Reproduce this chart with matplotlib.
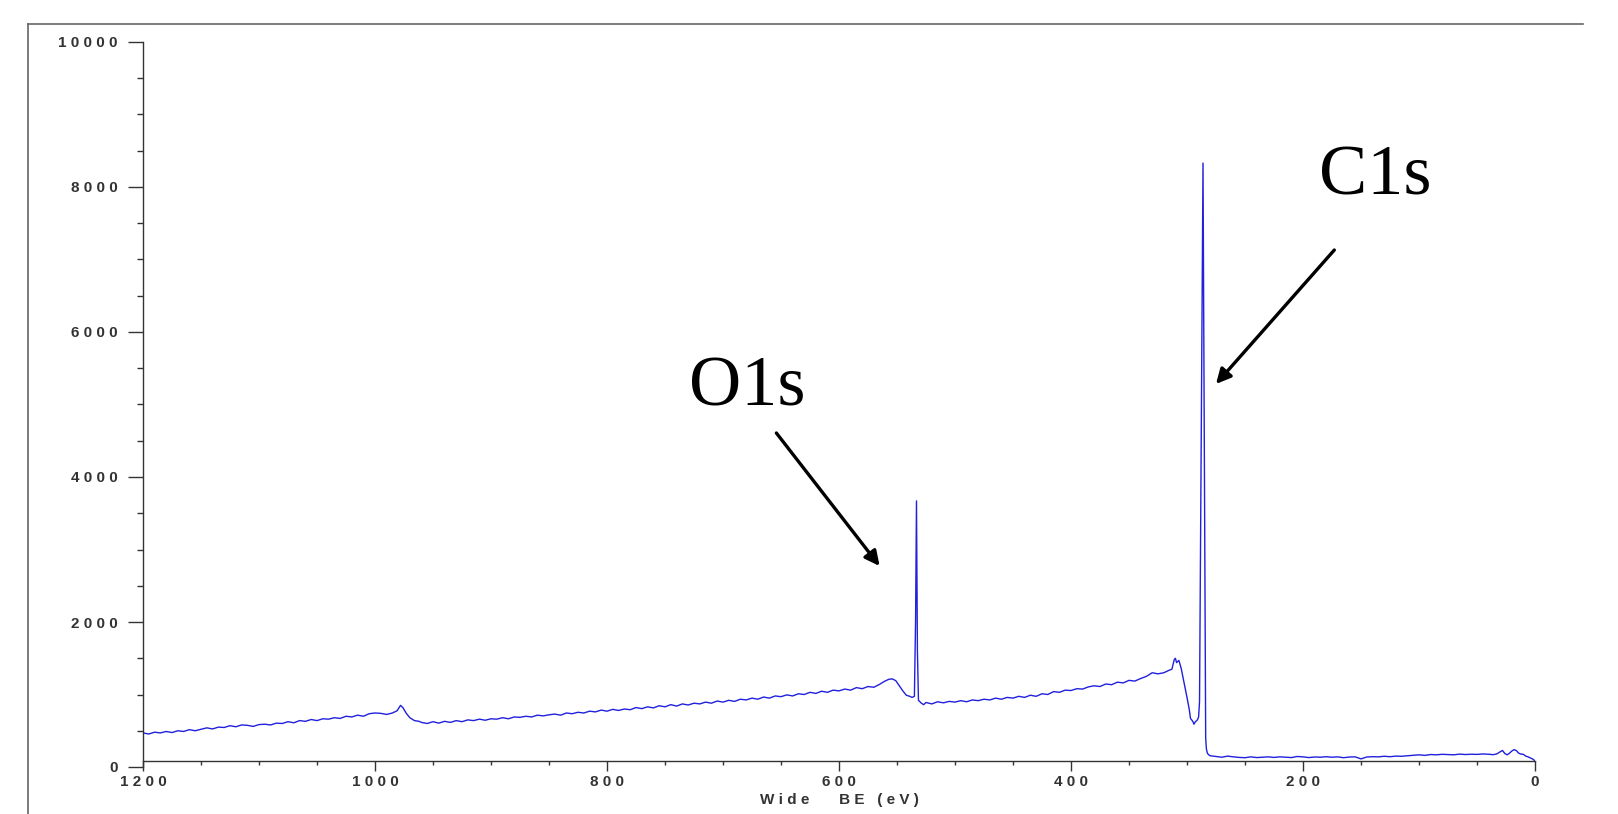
import matplotlib
matplotlib.use('Agg')
import matplotlib.pyplot as plt
from matplotlib.lines import Line2D
from matplotlib.ticker import MultipleLocator, FuncFormatter

# wide scan, binding energy (eV) vs counts
be_ev = [
    1200, 1195, 1190, 1185, 1180, 1175, 1170, 1165, 1160, 1155,
    1150, 1145, 1140, 1135, 1130, 1125, 1120, 1115, 1110, 1105,
    1100, 1095, 1090, 1085, 1080, 1075, 1070, 1065, 1060, 1055,
    1050, 1045, 1040, 1035, 1030, 1025, 1020, 1015, 1010, 1005,
    1000, 995, 990, 985,
    981, 978, 976, 973, 970, 966, 962,
    960, 955, 950, 945, 940, 935, 930, 925, 920, 915,
    910, 905, 900, 895, 890, 885, 880, 875, 870, 865,
    860, 855, 850, 845, 840, 835, 830, 825, 820, 815,
    810, 805, 800, 795, 790, 785, 780, 775, 770, 765,
    760, 755, 750, 745, 740, 735, 730, 725, 720, 715,
    710, 705, 700, 695, 690, 685, 680, 675, 670, 665,
    660, 655, 650, 645, 640, 635, 630, 625, 620, 615,
    610, 605, 600, 595, 590, 585, 580, 575, 570, 565,
    561, 557, 554, 551, 548, 545, 542, 539, 537, 535,
    534, 533.2, 532.4, 531.5, 529, 527,
    525, 520, 515, 510, 505, 500, 495, 490, 485, 480,
    475, 470, 465, 460, 455, 450, 445, 440, 435, 430,
    425, 420, 415, 410, 405, 400, 395, 390, 385, 380,
    375, 370, 365, 360, 355, 350, 345, 340, 335, 330,
    325, 320,
    316, 313, 311, 310, 309, 307, 305, 303, 300, 298,
    297, 295, 294, 293, 291, 290, 289.2, 286.2, 283.9, 283.3,
    282.5, 281.5, 280,
    275, 270, 265, 260, 255, 250, 245, 240, 235, 230,
    225, 220, 215, 210, 205, 200, 195, 190, 185, 180,
    175, 170, 165, 160, 155, 150, 145, 140, 135, 130,
    125, 120, 115, 110, 105, 100, 95, 90, 85, 80,
    75, 70, 65, 60, 55, 50, 45, 40,
    36, 33, 30, 28, 26, 24, 22, 20, 18, 16,
    14, 12, 10, 8, 6, 4, 2, 0,
]
counts = [
    470, 455, 480, 470, 490, 475, 500, 490, 515, 500,
    520, 540, 525, 550, 545, 570, 555, 580, 575, 560,
    585, 590, 580, 605, 600, 625, 610, 640, 630, 655,
    640, 665, 660, 680, 670, 700, 690, 715, 700, 735,
    745, 740, 725, 745,
    775, 850, 820, 740, 680, 640, 630,
    615, 600, 625, 605, 630, 615, 640, 625, 650, 640,
    660, 645, 665, 660, 680, 665, 690, 685, 700, 690,
    715, 705, 720, 730, 715, 745, 735, 755, 745, 770,
    760, 785, 770, 795, 780, 800, 790, 820, 805, 830,
    815, 845, 830, 860, 840, 870, 855, 880, 870, 895,
    880, 910, 895, 920, 905, 935, 925, 950, 935, 965,
    950, 980, 970, 995, 980, 1010, 1000, 1030, 1015, 1045,
    1030, 1060, 1050, 1075, 1060, 1095, 1080, 1110, 1100, 1140,
    1180, 1210, 1215, 1190, 1120, 1050, 990, 975, 960, 975,
    2000, 3670, 1600, 920, 880, 860,
    890, 870, 900, 885, 905, 895, 915, 900, 925, 915,
    935, 925, 950, 935, 960, 950, 975, 960, 990, 975,
    1010, 1000, 1040, 1030, 1060, 1055, 1080, 1075, 1105, 1120,
    1110, 1145, 1135, 1170, 1160, 1195, 1185, 1220, 1250, 1300,
    1285, 1300,
    1330, 1350, 1480, 1500, 1440, 1470, 1360, 1200, 960, 790,
    670, 630, 590, 620, 650, 690, 900, 8330, 400, 250,
    195, 170, 155,
    145, 135, 150, 140, 132, 128, 140, 130, 135, 140,
    132, 140, 135, 130, 145, 140, 130, 138, 135, 142,
    135, 140, 128, 138, 140, 112, 138, 142, 140, 148,
    142, 150, 148, 155, 162, 168, 160, 172, 168, 175,
    172, 168, 178, 172, 176, 174, 180, 176,
    170, 180, 210, 228, 185, 168, 190, 220, 240, 225,
    190, 178, 175, 150, 140, 125, 110, 85,
]

peak_labels = ['O1s', 'C1s']
label_pos = [(729, 4985), (186, 7903)]
arrow_tail = [(654, 4607), (173, 7131)]
arrow_head = [(565, 2772), (275, 5283)]

W, H = 1618, 814
fig = plt.figure(figsize=(W / 100, H / 100), dpi=100)

# outer frame (left and top edges only are visible)
fig.add_artist(Line2D([28 / W, 1583 / W], [1 - 24 / H, 1 - 24 / H],
                      transform=fig.transFigure, color='#666666', lw=1.2))
fig.add_artist(Line2D([28 / W, 28 / W], [0, 1 - 24 / H],
                      transform=fig.transFigure, color='#666666', lw=1.2))

ax = fig.add_axes([143 / W, 1 - 767 / H, (1535 - 143) / W, (767 - 42) / H])
ax.plot(be_ev, counts, color='#2020dd', lw=1.0)

ax.set_xlim(1200, 0)
ax.set_ylim(0, 10000)
ax.spines['top'].set_visible(False)
ax.spines['right'].set_visible(False)
ax.spines['bottom'].set_position(('data', 85))
for s in ('left', 'bottom'):
    ax.spines[s].set_color('#333333')
    ax.spines[s].set_linewidth(1.0)

spaced = FuncFormatter(lambda v, p: ' '.join(str(int(round(v)))))
ax.xaxis.set_major_locator(MultipleLocator(200))
ax.xaxis.set_minor_locator(MultipleLocator(50))
ax.yaxis.set_major_locator(MultipleLocator(2000))
ax.yaxis.set_minor_locator(MultipleLocator(500))
ax.xaxis.set_major_formatter(spaced)
ax.yaxis.set_major_formatter(spaced)

ax.tick_params(axis='x', which='major', length=7, width=1, color='#333333',
               labelsize=11, labelcolor='#333333', pad=3)
ax.tick_params(axis='x', which='minor', length=3, width=1, color='#333333')
ax.tick_params(axis='y', which='major', length=11, width=1, color='#333333',
               labelsize=11, labelcolor='#333333', pad=7)
ax.tick_params(axis='y', which='minor', length=4, width=1, color='#333333')
for lbl in ax.get_xticklabels() + ax.get_yticklabels():
    lbl.set_fontfamily('Liberation Sans')
    lbl.set_fontweight('bold')

ax.set_xlabel('W i d e       B E   ( e V )', fontsize=11, color='#333333',
              fontfamily='Liberation Sans', fontweight='bold', labelpad=3)

for lab, pos, tail, head in zip(peak_labels, label_pos, arrow_tail, arrow_head):
    ax.text(pos[0], pos[1], lab, fontfamily='Liberation Serif', fontsize=52,
            ha='left', va='baseline', color='black')
    ax.annotate('', xy=head, xytext=tail,
                arrowprops=dict(arrowstyle='-|>', lw=2.4, color='black',
                                mutation_scale=22, shrinkA=0, shrinkB=0))

fig.savefig('out.png', dpi=100)
